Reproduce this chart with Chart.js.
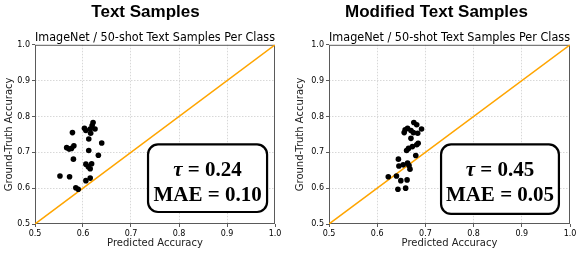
<!DOCTYPE html>
<html>
<head>
<meta charset="utf-8">
<script src="https://cdn.jsdelivr.net/npm/chart.js@4"></script>
<style>
  html, body { margin: 0; padding: 0; background: #fff; }
  #wrap { position: relative; width: 582px; height: 253px; }
  .cell { position: absolute; top: 0; width: 291px; height: 253px; }
</style>
</head>
<body>
<div id="wrap">
  <div class="cell" style="left:0"><canvas id="leftChart"></canvas></div>
  <div class="cell" style="left:291px"><canvas id="rightChart"></canvas></div>
</div>
<script>
// données
const axisTicks = [0.5, 0.6, 0.7, 0.8, 0.9, 1.0];
const diagX = [0.5, 1.0];
const diagY = [0.5, 1.0];

const textPred = [0.621, 0.619, 0.603, 0.606, 0.615, 0.616, 0.625, 0.578, 0.612, 0.639, 0.566, 0.571, 0.581, 0.576,
  0.612, 0.632, 0.580, 0.606, 0.618, 0.611, 0.615, 0.552, 0.572, 0.615, 0.606, 0.585, 0.590];
const textTrue = [0.783, 0.775, 0.767, 0.761, 0.765, 0.753, 0.765, 0.755, 0.737, 0.726, 0.713, 0.709, 0.718, 0.711,
  0.705, 0.692, 0.681, 0.667, 0.668, 0.660, 0.654, 0.634, 0.632, 0.628, 0.621, 0.601, 0.597];

const modPred = [0.676, 0.682, 0.663, 0.658, 0.656, 0.670, 0.675, 0.684, 0.692, 0.670, 0.682, 0.685, 0.673, 0.665,
  0.661, 0.680, 0.644, 0.654, 0.663, 0.666, 0.645, 0.668, 0.623, 0.640, 0.649, 0.662, 0.643, 0.659];
const modTrue = [0.783, 0.777, 0.767, 0.763, 0.755, 0.761, 0.755, 0.753, 0.765, 0.739, 0.721, 0.725, 0.716, 0.711,
  0.705, 0.691, 0.681, 0.665, 0.670, 0.663, 0.662, 0.653, 0.632, 0.634, 0.621, 0.623, 0.597, 0.600];

const titles = ['Text Samples', 'Modified Text Samples'];
const subTitle = 'ImageNet / 50-shot Text Samples Per Class';
const tauValues = ['0.24', '0.45'];
const maeValues = ['0.10', '0.05'];

const toPoints = (xs, ys) => xs.map((x, i) => ({x: x, y: ys[i]}));
const isEdge = v => Math.abs(v - 0.5) < 1e-6 || Math.abs(v - 1.0) < 1e-6;

// cadre complet autour de la zone de tracé
const spinePlugin = {
  id: 'spines',
  beforeDatasetsDraw(chart) {
    const a = chart.chartArea;
    const ctx = chart.ctx;
    ctx.save();
    ctx.strokeStyle = '#5a5a5a';
    ctx.lineWidth = 1;
    ctx.strokeRect(a.left + 0.5, a.top + 0.5, a.right - a.left - 1, a.bottom - a.top - 1);
    ctx.restore();
  }
};

// encadré tau / MAE
const statBoxPlugin = {
  id: 'statBox',
  afterDraw(chart, args, opts) {
    const a = chart.chartArea;
    const ctx = chart.ctx;
    const w = a.right - a.left, h = a.bottom - a.top;
    const x0 = a.left + opts.x0 * w, x1 = a.left + opts.x1 * w;
    const y0 = a.bottom - opts.y1 * h, y1 = a.bottom - opts.y0 * h;
    ctx.save();
    ctx.beginPath();
    ctx.roundRect(x0, y0, x1 - x0, y1 - y0, 10);
    ctx.fillStyle = '#fff';
    ctx.fill();
    ctx.lineWidth = 2.2;
    ctx.strokeStyle = '#000';
    ctx.stroke();

    const cx = (x0 + x1) / 2;
    ctx.fillStyle = '#000';
    ctx.textBaseline = 'middle';
    ctx.textAlign = 'left';
    // ligne 1 : tau en italique
    const f1 = 'italic bold 21px "Liberation Serif"';
    const f2 = 'bold 21px "Liberation Serif"';
    ctx.font = f1;
    const wTau = ctx.measureText('τ').width;
    ctx.font = f2;
    const rest = ' = ' + opts.tau;
    const wRest = ctx.measureText(rest).width;
    let sx = cx - (wTau + wRest) / 2;
    const ly1 = a.bottom - opts.line1 * h;
    ctx.font = f1;
    ctx.fillText('τ', sx, ly1);
    ctx.font = f2;
    ctx.fillText(rest, sx + wTau, ly1);
    // ligne 2
    ctx.textAlign = 'center';
    ctx.fillText('MAE = ' + opts.mae, cx, a.bottom - opts.line2 * h);
    ctx.restore();
  }
};

function makeChart(canvasId, idx, pred, truth, yWidth, padRight, box) {
  const canva = document.getElementById(canvasId);
  return new Chart(canva, {
    type: 'scatter',
    data: {
      datasets: [
        {
          data: toPoints(pred, truth),
          backgroundColor: '#000',
          borderWidth: 0,
          pointRadius: 2.8
        },
        {
          data: toPoints(diagX, diagY),
          showLine: true,
          borderColor: '#FFA500',
          borderWidth: 1.5,
          pointRadius: 0
        }
      ]
    },
    options: {
      responsive: false,
      animation: false,
      devicePixelRatio: 1,
      layout: { padding: 0 },
      plugins: {
        legend: { display: false },
        tooltip: { enabled: false },
        title: {
          display: true,
          text: titles[idx],
          color: '#000',
          font: { family: '"Liberation Sans", Arial, sans-serif', size: 17, weight: 'bold' },
          padding: { top: 2, bottom: 0 }
        },
        subtitle: {
          display: true,
          text: subTitle,
          fullSize: false,
          color: '#000',
          font: { family: '"DejaVu Sans"', size: 12 },
          padding: { top: 8, bottom: 0 }
        },
        statBox: box
      },
      scales: {
        x: {
          type: 'linear',
          min: 0.5,
          max: 1.0,
          afterFit: s => { s.height = 29; },
          afterBuildTicks: s => { s.ticks = axisTicks.map(v => ({value: v})); },
          ticks: {
            color: '#000',
            font: { family: '"DejaVu Sans"', size: 8 },
            padding: 2,
            maxRotation: 0,
            callback: v => v.toFixed(1)
          },
          grid: {
            color: c => isEdge(c.tick.value) ? 'rgba(0,0,0,0)' : '#d8d8d8',
            tickColor: '#5a5a5a',
            tickLength: 3
          },
          border: { display: false, dash: [1.5, 1.5] },
          title: {
            display: true,
            text: 'Predicted Accuracy',
            color: '#222',
            font: { family: '"DejaVu Sans"', size: 10 },
            padding: { top: 0, bottom: 4 }
          }
        },
        y: {
          type: 'linear',
          min: 0.5,
          max: 1.0,
          afterFit: s => { s.width = yWidth; },
          afterBuildTicks: s => { s.ticks = axisTicks.map(v => ({value: v})); },
          ticks: {
            color: '#000',
            font: { family: '"DejaVu Sans"', size: 8 },
            padding: 2,
            callback: v => v.toFixed(1)
          },
          grid: {
            color: c => isEdge(c.tick.value) ? 'rgba(0,0,0,0)' : '#d8d8d8',
            tickColor: '#5a5a5a',
            tickLength: 3
          },
          border: { display: false, dash: [1.5, 1.5] },
          title: {
            display: true,
            text: 'Ground-Truth Accuracy',
            color: '#222',
            font: { family: '"DejaVu Sans"', size: 10 },
            padding: { top: 3, bottom: 0 }
          }
        },
        // axe vide à droite : réserve la marge sans décaler le titre
        yPad: {
          type: 'linear',
          position: 'right',
          min: 0.5,
          max: 1.0,
          afterFit: s => { s.width = padRight; },
          ticks: { display: false },
          grid: { display: false },
          border: { display: false }
        }
      }
    },
    plugins: [spinePlugin, statBoxPlugin]
  });
}

for (const id of ['leftChart', 'rightChart']) {
  const c = document.getElementById(id);
  c.width = 291; c.height = 253;
  c.style.width = '291px'; c.style.height = '253px';
}

makeChart('leftChart', 0, textPred, textTrue, 35, 16,
  { x0: 0.471, x1: 0.967, y0: 0.067, y1: 0.444, line1: 0.30, line2: 0.16, tau: tauValues[0], mae: maeValues[0] });
makeChart('rightChart', 1, modPred, modTrue, 38, 12,
  { x0: 0.465, x1: 0.954, y0: 0.056, y1: 0.444, line1: 0.30, line2: 0.16, tau: tauValues[1], mae: maeValues[1] });
</script>
</body>
</html>
